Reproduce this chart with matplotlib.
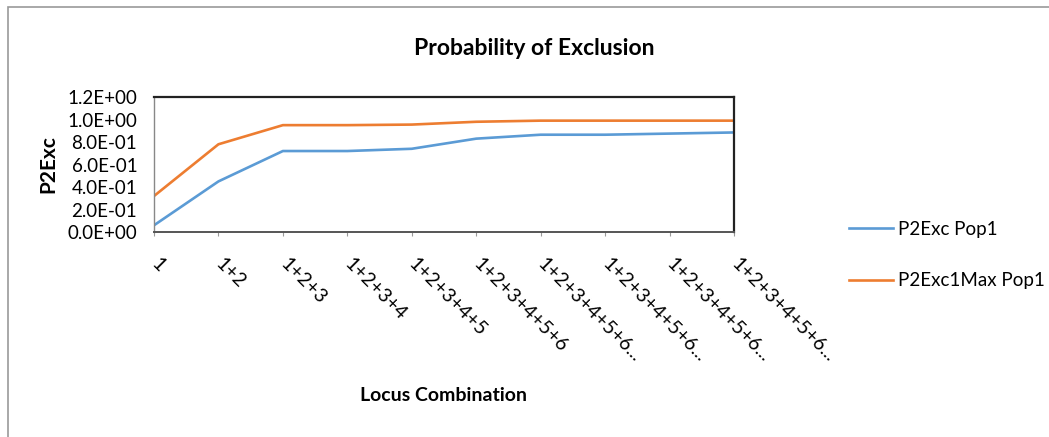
import matplotlib.pyplot as plt
from matplotlib.patches import Rectangle

plt.rcParams['font.family'] = ['Lato', 'DejaVu Sans']

loci = ['1', '1+2', '1+2+3', '1+2+3+4', '1+2+3+4+5', '1+2+3+4+5+6',
        '1+2+3+4+5+6...', '1+2+3+4+5+6...', '1+2+3+4+5+6...', '1+2+3+4+5+6...']
p2exc_pop1 = [0.06, 0.45, 0.72, 0.72, 0.74, 0.83, 0.865, 0.865, 0.875, 0.885]
p2exc1max_pop1 = [0.32, 0.78, 0.95, 0.95, 0.955, 0.98, 0.99, 0.99, 0.99, 0.99]
yticks = [0.0, 0.2, 0.4, 0.6, 0.8, 1.0, 1.2]

fig = plt.figure(figsize=(10.49, 4.37), dpi=100)
ax = fig.add_axes([0.1468, 0.469, 0.5529, 0.309])

x = list(range(len(loci)))
ax.plot(x, p2exc_pop1, color='#5B9BD5', lw=1.9, label='P2Exc Pop1')
ax.plot(x, p2exc1max_pop1, color='#ED7D31', lw=1.9, label='P2Exc1Max Pop1')

ax.set_xlim(0, len(loci) - 1)
ax.set_ylim(0, 1.2)
ax.set_yticks(yticks)
ax.set_yticklabels(['%.1E' % v for v in yticks], fontsize=13.5)
ax.tick_params(axis='y', length=0, pad=12)
ax.set_xticks(x)
ax.set_xticklabels(loci, fontsize=14, rotation=-45, ha='left', va='center',
                   rotation_mode='anchor')
ax.tick_params(axis='x', length=3, color='#999999', pad=18)

for side in ['top', 'right']:
    ax.spines[side].set_color('#222222')
    ax.spines[side].set_linewidth(1.6)
ax.spines['left'].set_color('#888888')
ax.spines['left'].set_linewidth(1.0)
ax.spines['bottom'].set_color('#555555')
ax.spines['bottom'].set_linewidth(1.4)

fig.text(0.509, 0.89, 'Probability of Exclusion', ha='center', va='center',
         fontsize=16.5, fontweight='bold')
fig.text(0.046, 0.625, 'P2Exc', ha='center', va='center', rotation=90,
         fontsize=15, fontweight='bold')
fig.text(0.423, 0.096, 'Locus Combination', ha='center', va='center',
         fontsize=14, fontweight='bold')

ax.legend(loc='center left', bbox_to_anchor=(1.17, -0.17), frameon=False,
          fontsize=13.5, handlelength=2.3, handletextpad=0.3, labelspacing=1.85)

fig.patches.append(Rectangle((0.008, -0.01), 1.0, 0.994, transform=fig.transFigure,
                             fill=False, edgecolor='#999999', lw=1.2))

fig.savefig('out.png', dpi=100)
